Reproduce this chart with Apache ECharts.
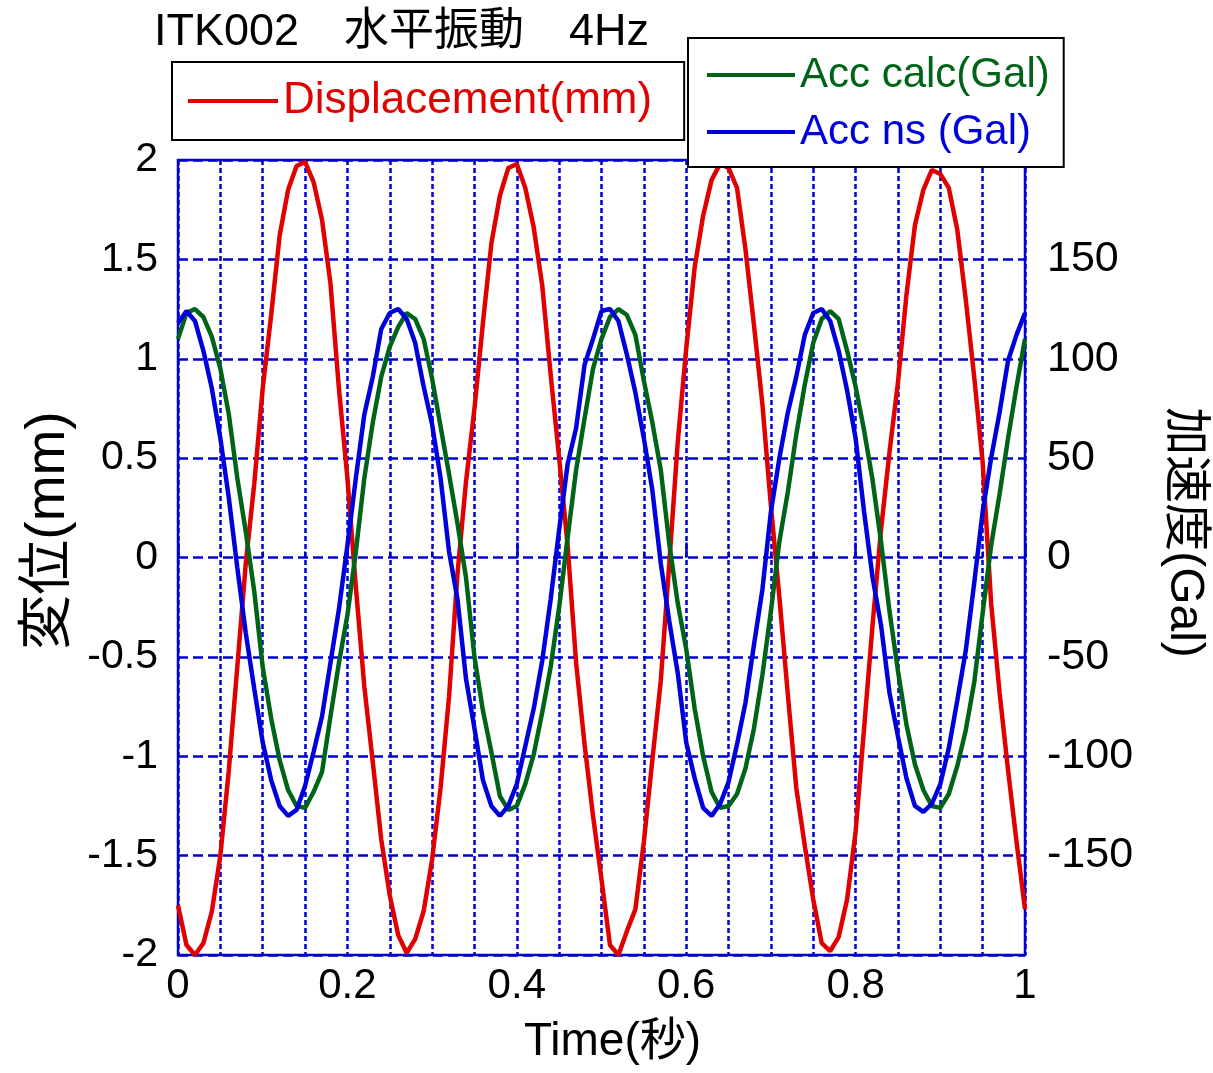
<!DOCTYPE html>
<html>
<head>
<meta charset="utf-8">
<title>ITK002 水平振動 4Hz</title>
<script src="https://cdn.jsdelivr.net/npm/echarts@6/dist/echarts.min.js"></script>
<style>
	html, body { margin: 0; padding: 0; background: #fff; }
	#mainChart { width: 1213px; height: 1073px; }
</style>
</head>
<body>
<div id="mainChart"></div>
<script>
/************************************** 図のデータ ********************************************/
//時間(秒)
var timeSec = [0,0.01,0.02,0.03,0.04,0.05,0.06,0.07,0.08,0.09,
	0.1,0.11,0.12,0.13,0.14,0.15,0.16,0.17,0.18,0.19,
	0.2,0.21,0.22,0.23,0.24,0.25,0.26,0.27,0.28,0.29,
	0.3,0.31,0.32,0.33,0.34,0.35,0.36,0.37,0.38,0.39,
	0.4,0.41,0.42,0.43,0.44,0.45,0.46,0.47,0.48,0.49,
	0.5,0.51,0.52,0.53,0.54,0.55,0.56,0.57,0.58,0.59,
	0.6,0.61,0.62,0.63,0.64,0.65,0.66,0.67,0.68,0.69,
	0.7,0.71,0.72,0.73,0.74,0.75,0.76,0.77,0.78,0.79,
	0.8,0.81,0.82,0.83,0.84,0.85,0.86,0.87,0.88,0.89,
	0.9,0.91,0.92,0.93,0.94,0.95,0.96,0.97,0.98,0.99,1];
//変位(mm)
var displacement = [-1.75,-1.95,-2.00,-1.94,-1.78,-1.50,-1.07,-0.55,-0.03,0.37,
	0.85,1.22,1.62,1.85,1.97,1.99,1.89,1.70,1.38,0.85,
	0.40,-0.15,-0.65,-1.03,-1.42,-1.70,-1.90,-1.99,-1.92,-1.78,
	-1.52,-1.16,-0.70,-0.08,0.38,0.75,1.18,1.58,1.82,1.96,
	1.98,1.86,1.66,1.37,0.92,0.50,0.06,-0.53,-0.94,-1.30,
	-1.62,-1.95,-2.00,-1.88,-1.77,-1.43,-1.02,-0.62,-0.03,0.58,
	1.05,1.46,1.72,1.90,1.98,1.96,1.86,1.55,1.17,0.77,
	0.26,-0.20,-0.69,-1.16,-1.45,-1.72,-1.94,-1.98,-1.91,-1.72,
	-1.38,-0.86,-0.34,0.14,0.53,0.88,1.32,1.67,1.85,1.95,
	1.93,1.86,1.65,1.30,0.91,0.48,-0.23,-0.68,-1.07,-1.43,-1.77];
//加速度 計算値(Gal)
var accCalc = [110,123,125,121,111,95,72,40,13,-17,
	-55,-81,-102,-117,-125,-126,-118,-108,-80,-53,
	-29,3,40,68,91,106,116,123,120,110,
	90,66,42,17,-10,-50,-77,-98,-120,-127,
	-125,-114,-99,-78,-55,-25,10,44,70,95,
	110,121,125,122,112,89,68,44,7,-23,
	-46,-76,-100,-118,-126,-125,-119,-106,-86,-59,
	-27,8,33,62,87,108,120,124,120,104,
	86,64,39,8,-27,-57,-84,-104,-117,-125,
	-126,-119,-105,-87,-63,-28,6,32,60,86,110];
//加速度 NS(Gal)
var accNs = [118,124,119,104,85,60,30,-5,-38,-66,
	-93,-112,-125,-130,-127,-115,-98,-80,-53,-26,
	6,40,72,91,115,123,125,120,108,86,
	67,40,3,-21,-61,-86,-112,-125,-130,-125,
	-114,-95,-76,-52,-21,14,47,65,97,110,
	124,125,119,102,83,60,34,-3,-32,-58,
	-93,-111,-126,-130,-124,-113,-94,-73,-44,-16,
	23,50,73,91,112,123,125,119,104,84,
	60,23,-10,-34,-68,-90,-111,-125,-128,-124,
	-114,-96,-72,-47,-13,23,50,73,99,112,123];
//系列名
var seriesNames = ['Displacement(mm)', 'Acc calc(Gal)', 'Acc ns (Gal)'];
var seriesColors = ['#e00000', '#006418', '#0000dd'];
/************************************** 図のデータ ********************************************/

var fontLatin = "'Liberation Sans', Arial, 'Noto Sans CJK JP', sans-serif";
var gridBlue = '#0000d0';

//[時間, 値] の組を作る
function toPairs(xs, ys){
	var out = [];
	for(var i = 0; i < xs.length; i++){
		out.push([xs[i], ys[i]]);
	}
	return out;
}

//x軸ラベル 0.2ごとのみ表示
function timeLabel(v){
	var k = v * 5;
	if(Math.abs(k - Math.round(k)) > 1e-6){
		return '';
	}
	if(v == 0 || v == 1){
		return String(Math.round(v));
	}
	return v.toFixed(1);
}

//系列の設定
function lineSeries(idx, axisIdx, values){
	return {
		name: seriesNames[idx],
		type: 'line',
		yAxisIndex: axisIdx,
		showSymbol: false,
		symbol: 'none',
		color: seriesColors[idx],
		lineStyle: {width: 4.5, color: seriesColors[idx]},
		data: toPairs(timeSec, values)
	};
}

var mainChart = echarts.init(document.getElementById('mainChart'));
var option = {
	animation: false,
	backgroundColor: '#fff',
	title: {
		text: 'ITK002\u3000水平振動\u30004Hz',
		left: 149,
		top: 5,
		textStyle: {
			fontFamily: fontLatin,
			fontSize: 45,
			fontWeight: 'normal',
			color: '#000'
		}
	},
	legend: [{
		data: [{name: seriesNames[0], textStyle: {color: seriesColors[0]}}],
		left: 172,
		top: 62,
		padding: [17, 32, 17, 16],
		icon: 'rect',
		itemWidth: 90,
		itemHeight: 4,
		itemGap: 10,
		selectedMode: false,
		backgroundColor: '#fff',
		borderColor: '#000',
		borderWidth: 2,
		textStyle: {fontFamily: fontLatin, fontSize: 44, lineHeight: 44}
	}, {
		data: [
			{name: seriesNames[1], textStyle: {color: seriesColors[1]}},
			{name: seriesNames[2], textStyle: {color: seriesColors[2]}}
		],
		orient: 'vertical',
		left: 688,
		top: 38,
		padding: [15, 14, 13, 19],
		icon: 'rect',
		itemWidth: 88,
		itemHeight: 4,
		itemGap: 13,
		selectedMode: false,
		backgroundColor: '#fff',
		borderColor: '#000',
		borderWidth: 2,
		textStyle: {fontFamily: fontLatin, fontSize: 42, lineHeight: 44}
	}],
	grid: {
		left: 178,
		right: 188,
		top: 160,
		bottom: 118,
		outerBoundsMode: 'none',
		show: true,
		borderColor: gridBlue,
		borderWidth: 2.5
	},
	xAxis: [{
		type: 'value',
		min: 0,
		max: 1,
		interval: 0.05,
		name: 'Time(秒)',
		nameLocation: 'middle',
		nameGap: 64,
		nameTextStyle: {fontFamily: fontLatin, fontSize: 46, color: '#000', padding: [0, 0, 0, 22]},
		axisLine: {show: false},
		axisTick: {inside: true, length: 6, lineStyle: {color: gridBlue, width: 2}},
		axisLabel: {formatter: timeLabel, fontFamily: fontLatin, fontSize: 42, color: '#000', margin: 10},
		splitLine: {show: true, lineStyle: {color: gridBlue, width: 2.5, type: [5, 3]}}
	}, {
		type: 'value',
		position: 'bottom',
		min: 0,
		max: 1,
		interval: 0.2,
		axisLine: {show: false},
		axisTick: {inside: true, length: 15, lineStyle: {color: gridBlue, width: 2.5}},
		axisLabel: {show: false},
		splitLine: {show: false}
	}],
	yAxis: [{
		type: 'value',
		min: -2,
		max: 2,
		interval: 0.5,
		name: '変位(mm)',
		nameLocation: 'middle',
		nameGap: 102,
		nameTextStyle: {fontFamily: fontLatin, fontSize: 55, color: '#000', padding: [0, 0, 0, 54]},
		axisLine: {show: false},
		axisTick: {show: false},
		axisLabel: {fontFamily: fontLatin, fontSize: 41, color: '#000', margin: 20},
		splitLine: {show: true, lineStyle: {color: gridBlue, width: 2.5, type: [10, 5]}}
	}, {
		type: 'value',
		min: -200,
		max: 200,
		interval: 50,
		name: '加速度(Gal)',
		nameLocation: 'middle',
		nameRotate: -90,
		nameGap: 135,
		nameTextStyle: {fontFamily: fontLatin, fontSize: 48, color: '#000', padding: [0, 50, 0, 0]},
		axisLine: {show: false},
		axisTick: {show: false},
		axisLabel: {
			fontFamily: fontLatin,
			fontSize: 43,
			color: '#000',
			margin: 22,
			formatter: function(v){
				return Math.abs(v) >= 200 ? '' : String(v);
			}
		},
		splitLine: {show: false}
	}],
	series: [
		lineSeries(0, 0, displacement),
		lineSeries(1, 1, accCalc),
		lineSeries(2, 1, accNs)
	]
};
mainChart.setOption(option);
</script>
</body>
</html>
